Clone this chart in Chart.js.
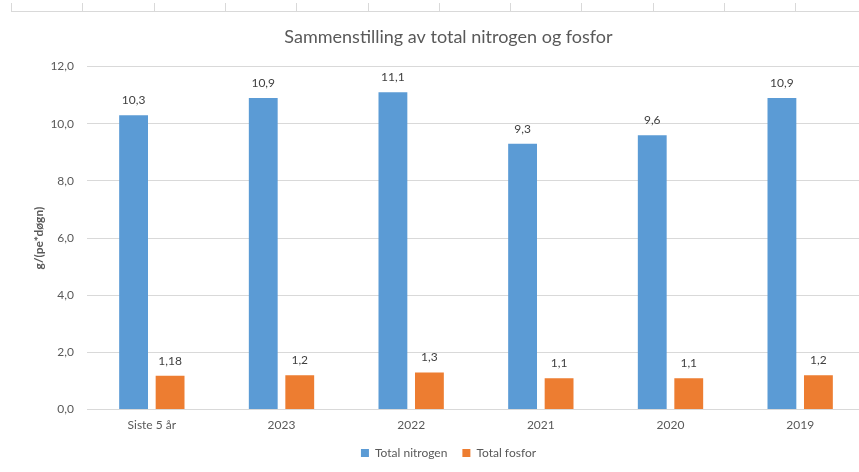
<!DOCTYPE html>
<html lang="no">
<head>
    <meta charset="UTF-8">
    <title>Sammenstilling av total nitrogen og fosfor</title>
    <style>
        body {
            margin: 0;
            background: white;
            overflow: hidden;
            width: 859px;
            height: 472px;
            position: relative;
        }
        /* cellekanter øverst i skjermbildet */
        #topline {
            position: absolute;
            left: 11px;
            top: 0;
            width: 860px;
            height: 11px;
            border-bottom: 1px solid #d9d9d9;
            background: repeating-linear-gradient(to right, #d9d9d9 0, #d9d9d9 1px, transparent 1px, transparent 71.3px);
            background-size: 100% 8px;
            background-repeat: no-repeat;
            background-position: 0 3px;
        }
        #chartWrap {
            position: absolute;
            left: 0;
            top: 0;
        }
    </style>
</head>
<body>
    <div id="topline"></div>
    <div id="chartWrap">
        <canvas id="chart" width="875" height="471"></canvas>
    </div>

    <script src="https://cdn.jsdelivr.net/npm/chart.js"></script>
    <script>
        const categories = ['Siste 5 år', '2023', '2022', '2021', '2020', '2019'];
        const nitrogen = [10.3, 10.9, 11.1, 9.3, 9.6, 10.9];
        const fosfor = [1.18, 1.2, 1.3, 1.1, 1.1, 1.2];
        const yTicks = [0, 2, 4, 6, 8, 10, 12];

        const textColor = '#595959';
        const fontFamily = 'Lato, "Open Sans", sans-serif';

        // tallverdier over stolpene
        const barLabels = {
            id: 'barLabels',
            afterDatasetsDraw(chart) {
                const ctx = chart.ctx;
                ctx.save();
                ctx.font = '12px ' + fontFamily;
                ctx.fillStyle = '#404040';
                ctx.textAlign = 'center';
                ctx.textBaseline = 'bottom';
                chart.data.datasets.forEach((ds, i) => {
                    chart.getDatasetMeta(i).data.forEach((bar, j) => {
                        const txt = String(ds.data[j]).replace('.', ',');
                        ctx.fillText(txt, bar.x, bar.y - 9);
                    });
                });
                ctx.restore();
            }
        };

        new Chart(document.getElementById('chart'), {
            type: 'bar',
            data: {
                labels: categories,
                datasets: [
                    {
                        label: 'Total nitrogen',
                        data: nitrogen,
                        backgroundColor: '#5b9bd5',
                        categoryPercentage: 0.563,
                        barPercentage: 0.79
                    },
                    {
                        label: 'Total fosfor',
                        data: fosfor,
                        backgroundColor: '#ed7d31',
                        categoryPercentage: 0.563,
                        barPercentage: 0.79
                    }
                ]
            },
            options: {
                responsive: false,
                animation: false,
                layout: {
                    padding: { left: 32, right: 10, top: 22, bottom: 2 }
                },
                plugins: {
                    title: {
                        display: true,
                        text: 'Sammenstilling av total nitrogen og fosfor',
                        color: textColor,
                        font: { family: fontFamily, size: 18, weight: 'normal' },
                        padding: { top: 4, bottom: 19 }
                    },
                    legend: {
                        position: 'bottom',
                        labels: {
                            color: textColor,
                            font: { family: fontFamily, size: 12 },
                            boxWidth: 8,
                            boxHeight: 8,
                            padding: 15
                        }
                    },
                    tooltip: { enabled: false }
                },
                scales: {
                    x: {
                        grid: { display: false },
                        border: { color: '#d9d9d9' },
                        ticks: {
                            color: textColor,
                            font: { family: fontFamily, size: 12 },
                            padding: 0
                        }
                    },
                    y: {
                        min: 0,
                        max: 12,
                        afterBuildTicks(axis) {
                            axis.ticks = yTicks.map(v => ({ value: v }));
                        },
                        afterFit(axis) {
                            axis.width = 55;
                        },
                        grid: { color: '#d9d9d9', drawTicks: false },
                        border: { display: false },
                        ticks: {
                            color: textColor,
                            font: { family: fontFamily, size: 12 },
                            padding: 13,
                            callback: v => v.toFixed(1).replace('.', ',')
                        },
                        title: {
                            display: true,
                            text: 'g/(pe*døgn)',
                            color: textColor,
                            font: { family: fontFamily, size: 12, weight: 'bold' },
                            padding: { top: 0, bottom: 4 }
                        }
                    }
                }
            },
            plugins: [barLabels]
        });
    </script>
</body>
</html>
